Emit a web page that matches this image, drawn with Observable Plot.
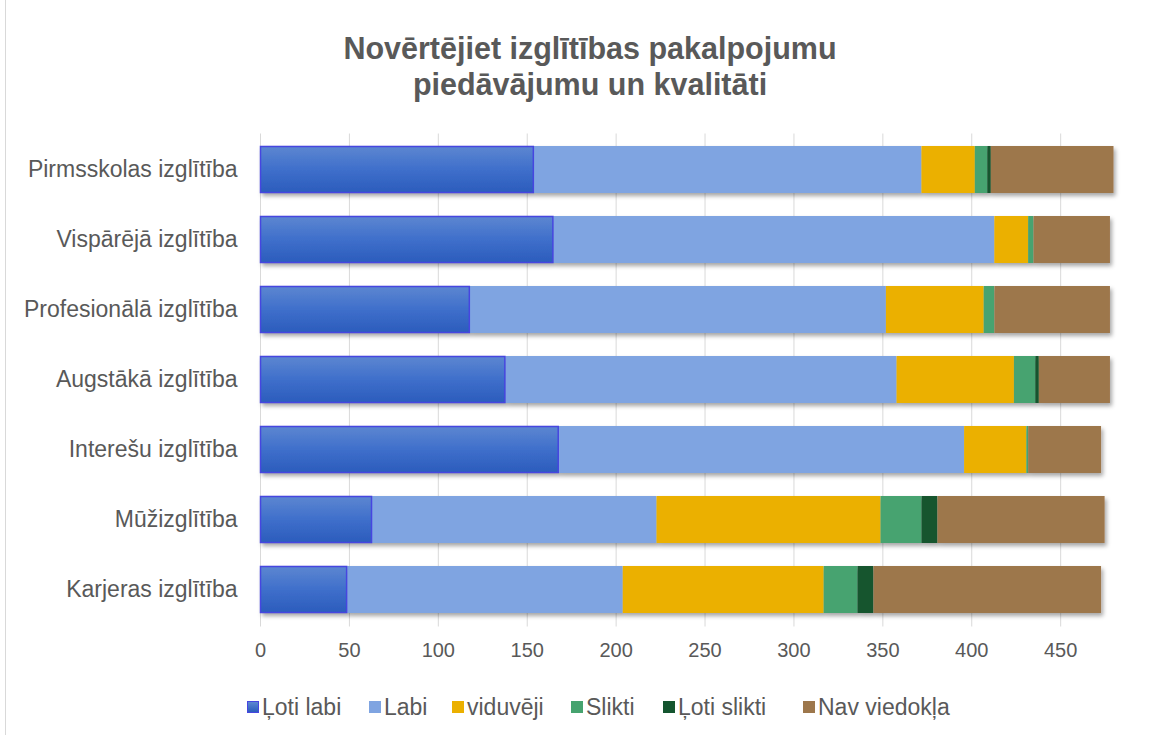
<!DOCTYPE html>
<html>
<head>
<meta charset="utf-8">
<script src="https://cdn.jsdelivr.net/npm/d3@7"></script>
<script src="https://cdn.jsdelivr.net/npm/@observablehq/plot@0.6"></script>
<style>
  html, body { margin: 0; padding: 0; background: #fff; width: 1162px; height: 735px; overflow: hidden; }
  body { position: relative; font-family: "Liberation Sans", Arial, sans-serif; }
  #frame { position: absolute; left: 5px; top: -2px; width: 1200px; height: 740px; border: 1px solid #d9d9d9; box-sizing: border-box; }
  #title { position: absolute; left: 0; top: 30px; width: 1180px; text-align: center; font-weight: bold; font-size: 30.5px; line-height: 36px; color: #595959; }
  #chart { position: absolute; left: 0; top: 110px; }
  #legend { position: absolute; top: 692px; left: 0; width: 1162px; height: 30px; font-size: 23px; color: #595959; }
  .item { position: absolute; top: 0; display: flex; align-items: center; height: 30px; white-space: nowrap; }
  .sw { width: 12px; height: 12px; margin-right: 3px; box-sizing: border-box; }
</style>
</head>
<body>
<div id="frame"></div>
<div id="title">Novērtējiet izglītības pakalpojumu<br>piedāvājumu un kvalitāti</div>
<div id="chart"></div>
<div id="legend"></div>
<script>
const categories = [
  "Pirmsskolas izglītība",
  "Vispārējā izglītība",
  "Profesionālā izglītība",
  "Augstākā izglītība",
  "Interešu izglītība",
  "Mūžizglītība",
  "Karjeras izglītība"
];
const seriesNames = ["Ļoti labi", "Labi", "viduvēji", "Slikti", "Ļoti slikti", "Nav viedokļa"];
const lotiLabi   = [154, 165, 118, 138, 168,  63,  49];
const labi       = [218, 248, 234, 220, 228, 160, 155];
const viduveji   = [ 30,  19,  55,  66,  35, 126, 113];
const slikti     = [  7,   3,   6,  12,   1,  23,  19];
const lotiSlikti = [  2,   0,   0,   2,   0,   9,   9];
const navViedokla= [ 69,  43,  65,  40,  41,  94, 128];
const xTicks = [0, 50, 100, 150, 200, 250, 300, 350, 400, 450];

const seriesValues = [lotiLabi, labi, viduveji, slikti, lotiSlikti, navViedokla];
const colors = ["url(#gradBlue)", "#7fa4e1", "#ebb000", "#46a36f", "#14552f", "#9d774c"];
const legendColors = ["#3f5fd8", "#7fa4e1", "#ebb000", "#46a36f", "#14552f", "#9d774c"];

const data = [];
categories.forEach((c, i) => {
  seriesNames.forEach((s, j) => {
    data.push({category: c, series: s, value: seriesValues[j][i]});
  });
});
const firstSeries = data.filter(d => d.series === seriesNames[0]);

const plot = Plot.plot({
  width: 1162,
  height: 560,
  marginLeft: 260,
  marginRight: 48.5,
  marginTop: 23.5,
  marginBottom: 43.5,
  style: {fontFamily: "'Liberation Sans', Arial, sans-serif", fontSize: "23px", color: "#595959", background: "transparent"},
  x: {domain: [0, 480], ticks: xTicks, tickSize: 0, tickPadding: 16, label: null},
  y: {domain: categories, paddingInner: 0.326, paddingOuter: 0.163, tickSize: 0, tickPadding: 23, label: null},
  color: {domain: seriesNames, range: colors},
  marks: [
    Plot.gridX(xTicks, {stroke: "#d9d9d9", strokeOpacity: 1, strokeWidth: 1}),
    Plot.barX(data, Plot.stackX({x: "value", y: "category", fill: "series", order: seriesNames})),
    Plot.barX(firstSeries, {x: "value", y: "category", fill: "none", stroke: "#4646e0", strokeWidth: 1.5, inset: 0.5})
  ]
});
document.getElementById("chart").appendChild(plot);

// x tick labels slightly smaller font
plot.querySelectorAll('g[aria-label="x-axis tick label"]').forEach(g => g.setAttribute("font-size", "20"));

// defs: gradient & shadow
const ns = "http://www.w3.org/2000/svg";
const defs = document.createElementNS(ns, "defs");
defs.innerHTML = `
  <linearGradient id="gradBlue" x1="0" y1="0" x2="0" y2="1">
    <stop offset="0" stop-color="#5d87d1"/>
    <stop offset="0.5" stop-color="#3f6fcb"/>
    <stop offset="1" stop-color="#2b5cbc"/>
  </linearGradient>
  <filter id="shadow" x="-5%" y="-20%" width="110%" height="160%">
    <feDropShadow dx="2" dy="3" stdDeviation="2" flood-color="#000" flood-opacity="0.35"/>
  </filter>`;
plot.insertBefore(defs, plot.firstChild);
const barGroups = plot.querySelectorAll('g[aria-label="bar"]');
if (barGroups.length) barGroups[0].setAttribute("filter", "url(#shadow)");

// legend
const legendLefts = [247, 369, 452, 571, 663, 803];
const legend = document.getElementById("legend");
seriesNames.forEach((s, i) => {
  const item = document.createElement("div");
  item.className = "item";
  item.style.left = legendLefts[i] + "px";
  const sw = document.createElement("span");
  sw.className = "sw";
  sw.style.background = i === 0 ? "linear-gradient(#5d87d1, #2b5cbc)" : legendColors[i];
  if (i === 0) sw.style.border = "1.5px solid #4646e0";
  const t = document.createElement("span");
  t.textContent = s;
  item.appendChild(sw);
  item.appendChild(t);
  legend.appendChild(item);
});
</script>
</body>
</html>
